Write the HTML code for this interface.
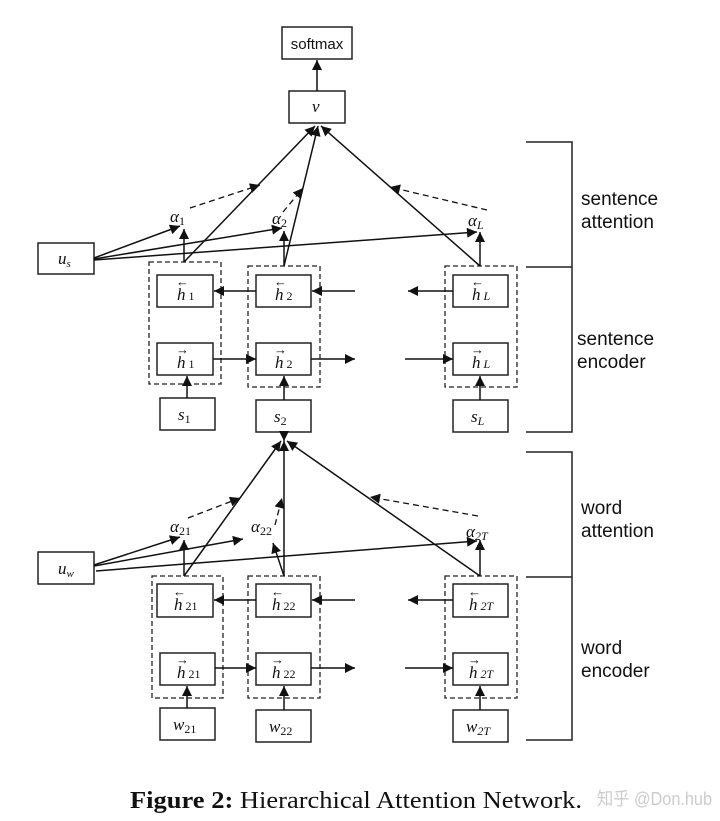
<!DOCTYPE html>
<html><head><meta charset="utf-8"><style>
html,body{margin:0;padding:0;background:#fff;}
svg{display:block;}
.m{font-family:"Liberation Serif",serif;font-style:italic;fill:#111;}
.s{font-family:"Liberation Sans",sans-serif;fill:#111;}
</style></head><body>
<svg width="720" height="821" viewBox="0 0 720 821" xmlns="http://www.w3.org/2000/svg">
<defs>
<marker id="a" viewBox="0 0 10 10" refX="10" refY="5" markerWidth="13" markerHeight="10" markerUnits="userSpaceOnUse" orient="auto"><path d="M0,0L10,5L0,10z" fill="#111"/></marker>
</defs>
<g stroke="#222" stroke-width="1.5" fill="none">
<rect x="282" y="27" width="70" height="32" fill="#fff"/>
<rect x="289" y="91" width="56" height="32"/>
<rect x="38" y="243" width="56" height="31"/>
<rect x="157" y="275" width="56" height="32"/><rect x="157" y="343" width="56" height="32"/>
<rect x="256" y="275" width="55" height="32"/><rect x="256" y="343" width="55" height="32"/>
<rect x="453" y="275" width="55" height="32"/><rect x="453" y="343" width="55" height="32"/>
<rect x="160" y="398" width="55" height="32"/><rect x="256" y="400" width="55" height="32"/><rect x="453" y="400" width="55" height="32"/>
<rect x="38" y="552" width="56" height="32"/>
<rect x="157" y="584" width="56" height="33"/><rect x="160" y="653" width="55" height="32"/>
<rect x="256" y="584" width="55" height="33"/><rect x="256" y="653" width="55" height="32"/>
<rect x="453" y="584" width="55" height="33"/><rect x="453" y="653" width="55" height="32"/>
<rect x="160" y="708" width="55" height="32"/><rect x="256" y="710" width="55" height="32"/><rect x="453" y="710" width="55" height="32"/>
</g>
<g stroke="#222" stroke-width="1.3" fill="none" stroke-dasharray="5,3">
<rect x="149" y="262" width="72" height="122"/><rect x="248" y="266" width="72" height="121"/><rect x="445" y="266" width="72" height="121"/>
<rect x="152" y="576" width="71" height="122"/><rect x="248" y="576" width="72" height="122"/><rect x="445" y="576" width="72" height="122"/>
</g>
<g stroke="#111" stroke-width="1.5" fill="none" marker-end="url(#a)">
<line x1="317" y1="91" x2="317" y2="60"/>
<line x1="184" y1="262" x2="315" y2="126"/>
<line x1="284" y1="266" x2="318" y2="126"/>
<line x1="480" y1="266" x2="321" y2="126"/>
<line x1="184" y1="262" x2="184" y2="229"/>
<line x1="284" y1="266" x2="284" y2="231"/>
<line x1="480" y1="266" x2="480" y2="232"/>
<line x1="94" y1="258" x2="180" y2="226"/>
<line x1="94" y1="259" x2="282" y2="228"/>
<line x1="94" y1="260" x2="477" y2="232"/>
<line x1="256" y1="291" x2="214" y2="291"/>
<line x1="355" y1="291" x2="312" y2="291"/>
<line x1="453" y1="291" x2="408" y2="291"/>
<line x1="213" y1="359" x2="256" y2="359"/>
<line x1="311" y1="359" x2="355" y2="359"/>
<line x1="405" y1="359" x2="453" y2="359"/>
<line x1="187" y1="398" x2="187" y2="376"/>
<line x1="284" y1="400" x2="284" y2="376"/>
<line x1="480" y1="400" x2="480" y2="376"/>
<line x1="184" y1="576" x2="281" y2="441"/>
<line x1="284" y1="576" x2="284" y2="441"/>
<line x1="480" y1="576" x2="287" y2="441"/>
<line x1="284" y1="432" x2="284" y2="441"/>
<line x1="184" y1="576" x2="184" y2="540"/>
<line x1="284" y1="576" x2="273" y2="543"/>
<line x1="480" y1="576" x2="480" y2="540"/>
<line x1="94" y1="565" x2="180" y2="537"/>
<line x1="94" y1="566" x2="243" y2="539"/>
<line x1="96" y1="571" x2="477" y2="541"/>
<line x1="256" y1="600" x2="214" y2="600"/>
<line x1="355" y1="600" x2="312" y2="600"/>
<line x1="453" y1="600" x2="408" y2="600"/>
<line x1="215" y1="668" x2="256" y2="668"/>
<line x1="311" y1="668" x2="355" y2="668"/>
<line x1="405" y1="668" x2="453" y2="668"/>
<line x1="187" y1="708" x2="187" y2="686"/>
<line x1="284" y1="710" x2="284" y2="686"/>
<line x1="480" y1="710" x2="480" y2="686"/>
</g>
<g stroke="#111" stroke-width="1.3" fill="none" stroke-dasharray="6,4" marker-end="url(#a)">
<line x1="190" y1="208" x2="260" y2="185"/>
<line x1="283" y1="212" x2="303" y2="188"/>
<line x1="487" y1="210" x2="390" y2="187"/>
<line x1="188" y1="518" x2="240" y2="498"/>
<line x1="275" y1="525" x2="282" y2="498"/>
<line x1="478" y1="516" x2="370" y2="497"/>
</g>
<g stroke="#222" stroke-width="1.5" fill="none">
<path d="M526 142H572V432H526M526 267H572"/>
<path d="M526 452H572V740H526M526 577H572"/>
</g>
<g class="s" font-size="19">
<text x="581" y="205">sentence</text><text x="581" y="228">attention</text>
<text x="577" y="345">sentence</text><text x="577" y="368">encoder</text>
<text x="581" y="514">word</text><text x="581" y="537">attention</text>
<text x="581" y="654">word</text><text x="581" y="677">encoder</text>
<text x="317" y="49" text-anchor="middle" font-size="15">softmax</text>
</g>
<g class="m" font-size="17">
<text x="312" y="112">v</text>
<text x="58" y="264">u<tspan font-size="11" dy="3">s</tspan></text>
<text x="58" y="574">u<tspan font-size="11" dy="3">w</tspan></text>
<text x="170" y="222">α<tspan font-size="12" dy="3" font-style="normal">1</tspan></text>
<text x="272" y="224">α<tspan font-size="12" dy="3" font-style="normal">2</tspan></text>
<text x="468" y="226">α<tspan font-size="12" dy="3">L</tspan></text>
<text x="170" y="532">α<tspan font-size="12" dy="3" font-style="normal">21</tspan></text>
<text x="251" y="532">α<tspan font-size="12" dy="3" font-style="normal">22</tspan></text>
<text x="466" y="537">α<tspan font-size="12" dy="3">2T</tspan></text>
<text x="178" y="420">s<tspan font-size="12" dy="3" font-style="normal">1</tspan></text>
<text x="274" y="422">s<tspan font-size="12" dy="3" font-style="normal">2</tspan></text>
<text x="471" y="422">s<tspan font-size="12" dy="3">L</tspan></text>
<text x="173" y="730">w<tspan font-size="12" dy="3" font-style="normal">21</tspan></text>
<text x="269" y="732">w<tspan font-size="12" dy="3" font-style="normal">22</tspan></text>
<text x="466" y="732">w<tspan font-size="12" dy="3">2T</tspan></text>
<text x="177" y="300">h<tspan font-size="12" dx="3" font-style="normal">1</tspan></text>
<text x="177" y="368">h<tspan font-size="12" dx="3" font-style="normal">1</tspan></text>
<text x="275" y="300">h<tspan font-size="12" dx="3" font-style="normal">2</tspan></text>
<text x="275" y="368">h<tspan font-size="12" dx="3" font-style="normal">2</tspan></text>
<text x="472" y="300">h<tspan font-size="12" dx="3">L</tspan></text>
<text x="472" y="368">h<tspan font-size="12" dx="3">L</tspan></text>
<text x="174" y="610">h<tspan font-size="12" dx="3" font-style="normal">21</tspan></text>
<text x="177" y="678">h<tspan font-size="12" dx="3" font-style="normal">21</tspan></text>
<text x="272" y="610">h<tspan font-size="12" dx="3" font-style="normal">22</tspan></text>
<text x="272" y="678">h<tspan font-size="12" dx="3" font-style="normal">22</tspan></text>
<text x="469" y="610">h<tspan font-size="12" dx="3">2T</tspan></text>
<text x="469" y="678">h<tspan font-size="12" dx="3">2T</tspan></text>
</g>
<g font-family="Liberation Serif,serif" font-size="13" fill="#111">
<text x="176" y="286">←</text><text x="176" y="354">→</text>
<text x="274" y="286">←</text><text x="274" y="354">→</text>
<text x="471" y="286">←</text><text x="471" y="354">→</text>
<text x="173" y="596">←</text><text x="176" y="664">→</text>
<text x="271" y="596">←</text><text x="271" y="664">→</text>
<text x="468" y="596">←</text><text x="468" y="664">→</text>
</g>
<text x="130" y="808" font-family="Liberation Serif,serif" font-size="24" fill="#111" textLength="452" lengthAdjust="spacingAndGlyphs"><tspan font-weight="bold">Figure 2:</tspan> Hierarchical Attention Network.</text>
<text x="597" y="805" font-family="Liberation Sans,'Noto Sans CJK SC',sans-serif" font-size="18" fill="#ccc" textLength="115" lengthAdjust="spacingAndGlyphs">知乎 @Don.hub</text>
</svg>
</body></html>
